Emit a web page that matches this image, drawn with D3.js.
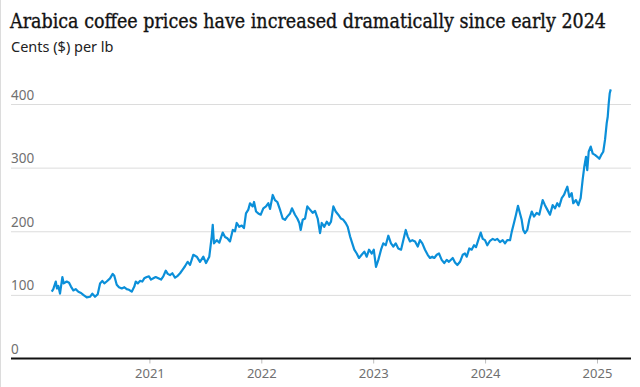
<!DOCTYPE html>
<html>
<head>
<meta charset="utf-8">
<script src="https://cdn.jsdelivr.net/npm/d3@7"></script>
<style>
  html, body { margin: 0; padding: 0; background: #ffffff; }
  svg { display: block; }
</style>
</head>
<body>
<svg id="chart" width="640" height="387"></svg>
<script>
// ---- data (decimal year, cents per lb) ----
const years = [
2020.127,2020.141,2020.163,2020.174,2020.186,2020.201,2020.222,2020.234,2020.261,2020.282,
2020.299,2020.320,2020.341,2020.365,2020.389,2020.409,2020.440,2020.469,2020.490,2020.514,
2020.538,2020.559,2020.579,2020.597,2020.618,2020.648,2020.672,2020.686,2020.708,2020.728,
2020.753,2020.776,2020.797,2020.818,2020.842,2020.865,2020.878,2020.896,2020.916,2020.937,
2020.954,2020.976,2020.996,2021.014,2021.035,2021.056,2021.080,2021.104,2021.124,2021.146,
2021.164,2021.184,2021.205,2021.229,2021.253,2021.274,2021.294,2021.318,2021.342,2021.363,
2021.392,2021.423,2021.452,2021.482,2021.506,2021.535,2021.557,2021.566,2021.577,2021.602,
2021.625,2021.655,2021.676,2021.696,2021.720,2021.745,2021.765,2021.780,2021.803,2021.825,
2021.845,2021.863,2021.884,2021.899,2021.923,2021.935,2021.953,2021.973,2021.995,2022.018,
2022.042,2022.063,2022.078,2022.102,2022.122,2022.143,2022.167,2022.191,2022.212,2022.232,
2022.257,2022.274,2022.301,2022.322,2022.340,2022.352,2022.370,2022.391,2022.411,2022.435,
2022.459,2022.480,2022.504,2022.525,2022.540,2022.563,2022.585,2022.605,2022.623,2022.644,
2022.665,2022.688,2022.712,2022.733,2022.754,2022.772,2022.793,2022.813,2022.831,2022.853,
2022.873,2022.897,2022.921,2022.942,2022.963,2022.987,2023.005,2023.025,2023.046,2023.070,
2023.090,2023.112,2023.135,2023.159,2023.180,2023.201,2023.224,2023.249,2023.269,2023.291,
2023.308,2023.329,2023.350,2023.374,2023.398,2023.418,2023.439,2023.463,2023.487,2023.508,
2023.528,2023.546,2023.568,2023.588,2023.612,2023.635,2023.657,2023.677,2023.711,2023.731,
2023.752,2023.776,2023.800,2023.820,2023.836,2023.859,2023.880,2023.901,2023.919,2023.939,
2023.961,2023.979,2023.999,2024.020,2024.044,2024.068,2024.089,2024.109,2024.133,2024.157,
2024.178,2024.198,2024.223,2024.238,2024.258,2024.276,2024.294,2024.312,2024.327,2024.341,
2024.357,2024.377,2024.395,2024.417,2024.437,2024.461,2024.484,2024.515,2024.535,2024.556,
2024.580,2024.604,2024.625,2024.645,2024.663,2024.685,2024.705,2024.723,2024.735,2024.753,
2024.774,2024.788,2024.812,2024.833,2024.854,2024.872,2024.887,2024.902,2024.913,2024.926,
2024.944,2024.962,2024.982,2025.003,2025.021,2025.038,2025.056,2025.072,2025.087,2025.096,
2025.105,2025.114,2025.123
];
const prices = [
105,109,121,110,114,102,128,118,121,119,
113,107,109,105,103,100,96,97,102,97,
101,118,122,118,121,126,133,130,116,112,
110,112,109,108,105,113,121,118,122,121,
126,128,129,124,126,128,126,124,129,138,
133,131,134,127,130,134,139,145,152,147,
163,160,152,160,150,160,192,210,181,186,
182,198,191,189,184,202,200,213,207,209,
205,228,234,244,239,246,231,228,226,236,
239,244,235,257,249,246,234,220,218,223,
228,236,226,220,213,202,218,220,239,234,
229,232,220,197,213,207,215,210,215,239,
231,226,220,218,213,207,192,181,171,165,
158,163,168,160,171,165,171,144,155,171,
181,178,193,181,176,181,173,171,186,202,
192,184,186,184,176,186,181,171,163,158,
160,158,163,165,155,150,155,152,158,151,
147,152,163,165,160,173,171,178,175,186,
198,188,186,178,185,188,186,188,183,186,
181,186,186,199,213,226,240,228,218,202,
197,202,218,231,223,229,226,249,241,234,
226,241,236,244,239,252,257,265,270,254,
260,244,249,241,252,281,302,317,296,325,
333,322,320,317,314,320,325,344,370,380,
401,417,423
];
const yTicks = [0, 100, 200, 300, 400];
const xTicks = [2021, 2022, 2023, 2024, 2025];
const xDomain = [2019.763, 2025.304];
const yDomain = [0, 400];
const titleText = "Arabica coffee prices have increased dramatically since early 2024";
const subtitleText = "Cents ($) per lb";

// ---- layout ----
const W = 640, H = 387;
const plotLeft = 11, plotRight = 631, plotTop = 104, plotBottom = 358.5;

const svg = d3.select("#chart");

// left border
svg.append("line")
  .attr("x1", 0.5).attr("x2", 0.5).attr("y1", 0).attr("y2", H)
  .attr("stroke", "#dcdcdc").attr("stroke-width", 1);

// title
const title = svg.append("text")
  .attr("x", 10).attr("y", 28)
  .attr("font-family", "'DejaVu Serif', serif")
  .attr("font-stretch", "condensed")
  .attr("font-size", 20)
  .attr("fill", "#121212")
  .attr("stroke", "#121212")
  .attr("stroke-width", 0.35)
  .text(titleText);
title.attr("textLength", 596).attr("lengthAdjust", "spacingAndGlyphs");

svg.append("text")
  .attr("x", 11).attr("y", 52)
  .attr("font-family", "'Noto Sans', sans-serif")
  .attr("font-size", 14.5)
  .attr("fill", "#222222")
  .text(subtitleText);

const x = d3.scaleLinear().domain(xDomain).range([plotLeft, plotRight]);
const y = d3.scaleLinear().domain(yDomain).range([plotBottom, plotTop]);

// gridlines & y labels
const yAxis = d3.axisRight(y)
  .tickValues(yTicks.filter(d => d !== 0))
  .tickSize(plotRight - plotLeft)
  .tickFormat("");
svg.append("g")
  .attr("transform", `translate(${plotLeft},0)`)
  .call(yAxis)
  .call(g => g.select(".domain").remove())
  .call(g => g.selectAll(".tick line").attr("stroke", "#dcdcdc").attr("stroke-width", 1));

svg.append("g").selectAll("text")
  .data(yTicks)
  .join("text")
  .attr("x", plotLeft)
  .attr("y", d => y(d) - 4.5)
  .attr("font-family", "'Noto Sans', sans-serif")
  .attr("font-size", 13.5)
  .attr("fill", "#707070")
  .text(d => d);

// x axis
const xAxis = d3.axisBottom(x)
  .tickValues(xTicks)
  .tickSize(5)
  .tickPadding(5)
  .tickFormat(d3.format("d"));
svg.append("g")
  .attr("transform", `translate(0,${plotBottom})`)
  .call(xAxis)
  .call(g => g.select(".domain").remove())
  .call(g => g.selectAll(".tick line").attr("stroke", "#bdbdbd"))
  .call(g => g.selectAll(".tick text")
    .attr("font-family", "'Noto Sans', sans-serif")
    .attr("font-size", 13)
    .attr("fill", "#707070"));

// line
const data = years.map((d, i) => ({ t: d, v: prices[i] }));
const line = d3.line().x(d => x(d.t)).y(d => y(d.v));
svg.append("path")
  .datum(data)
  .attr("d", line)
  .attr("fill", "none")
  .attr("stroke", "#0b8fd9")
  .attr("stroke-width", 2.2)
  .attr("stroke-linejoin", "round");

// baseline
svg.append("line")
  .attr("x1", plotLeft).attr("x2", plotRight)
  .attr("y1", y(0)).attr("y2", y(0))
  .attr("stroke", "#121212").attr("stroke-width", 2);
</script>
</body>
</html>
